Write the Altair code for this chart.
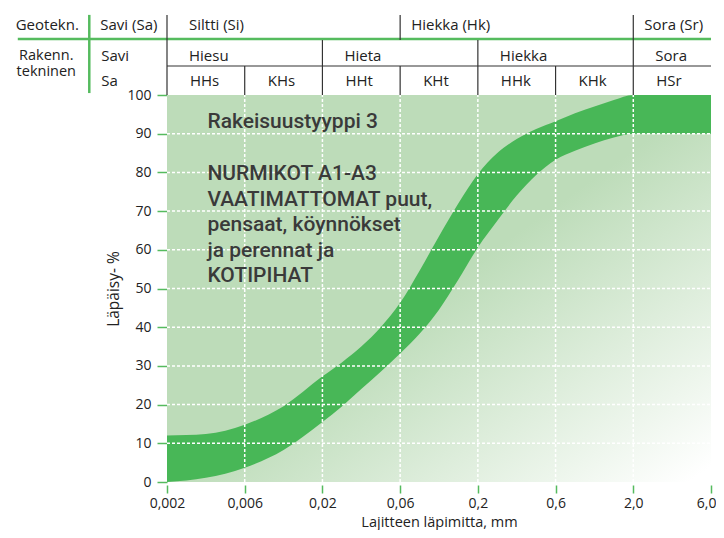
import altair as alt
import pandas as pd

# ---------------- data ----------------
x_tick_labels = ["0,002", "0,006", "0,02", "0,06", "0,2", "0,6", "2,0", "6,0"]
x_tick_pos = [0, 1, 2, 3, 4, 5, 6, 7]
y_tick_vals = [0, 10, 20, 30, 40, 50, 60, 70, 80, 90, 100]

band_x = [0, 0.5, 1, 1.5, 2, 2.25, 2.5, 2.75, 3, 3.25, 3.5, 3.75, 4, 4.25, 4.5,
          4.75, 5, 5.25, 5.5, 5.75, 6, 6.5, 7]
band_upper = [12, 12.4, 14.8, 19.6, 27.3, 30.9, 35, 40, 46.3, 54.6, 63.5, 72, 79.6,
              85.0, 88.6, 91.2, 93.2, 95.3, 97.0, 98.7, 100, 100, 100]
band_lower = [0, 1.1, 3.7, 8.3, 15.5, 19.5, 24, 28.5, 33.2, 38.3, 44.5, 52.3, 60.6,
              67.5, 74, 79.3, 83.3, 85.6, 87.5, 89.0, 90, 90, 90]

geo_names = ["Savi (Sa)", "Siltti (Si)", "Hiekka (Hk)", "Sora (Sr)"]
geo_start = [-1, 0, 3, 6]
rak_names = ["Hiesu", "Hieta", "Hiekka", "Sora"]
rak_start = [0, 2, 4, 6]
sub_names = ["HHs", "KHs", "HHt", "KHt", "HHk", "KHk", "HSr"]
sub_start = [0, 1, 2, 3, 4, 5, 6]
savi_col = ["Savi", "Sa"]
row_titles = ["Geotekn.", "Rakenn.", "tekninen"]

title_line = "Rakeisuustyyppi 3"
body_lines = ["NURMIKOT A1-A3", "VAATIMATTOMAT puut,", "pensaat, köynnökset",
              "ja perennat ja", "KOTIPIHAT"]

# ---------------- layout constants (header rows in y-scale units) ----------------
X0, X1 = 0, 7
Y0, Y1 = 0, 100
LABEL_LEFT = -1.92
Y_TOP = 120.7
Y_GREEN = 114.5
Y_MID = 107.5
ROW1 = 118.2
ROW2 = 110.2
ROW3 = 103.5

BG = "#bddcb9"
BAND = "#48b757"
GREEN_LINE = "#55bb5e"
DARK = "#333333"
TXT = "#222222"
FONT = "Open Sans"
HFS = 15

X_AXIS = alt.Axis(values=x_tick_pos,
                  labelExpr="%s[datum.value]" % str(x_tick_labels),
                  labelFlush=False, labelOverlap=False,
                  labelAlign={"condition": {"test": "datum.value == 7", "value": "right"},
                              "value": "center"},
                  labelOffset={"condition": {"test": "datum.value == 7", "value": 5},
                               "value": 0},
                  grid=False, domain=False, tickColor=GREEN_LINE,
                  tickWidth=1.5, tickSize=8, offset=3, labelPadding=3,
                  labelFont=FONT, labelFontSize=14, labelColor=TXT,
                  title="Lajitteen läpimitta, mm", titleFont=FONT,
                  titleFontSize=14.5, titleFontWeight="normal",
                  titleColor=TXT, titleBaseline="alphabetic", titleY=41)
Y_AXIS = alt.Axis(values=y_tick_vals, tickCount=11, grid=False, domain=False,
                  labelOverlap=False, labelFlush=False,
                  tickColor=GREEN_LINE, tickWidth=1.5, tickSize=10,
                  labelPadding=6, labelFont=FONT, labelFontSize=14,
                  labelColor=TXT, title="Läpäisy- %", titleFont=FONT,
                  titleFontSize=15.5, titleFontWeight="normal",
                  titleColor=TXT, titlePadding=5)
X_SCALE = alt.Scale(domain=[X0, X1], nice=False, zero=False)
Y_SCALE = alt.Scale(domain=[Y0, Y1], nice=False, zero=False)


def X(field):
    return alt.X(field, scale=X_SCALE, axis=X_AXIS)


def Y(field):
    return alt.Y(field, scale=Y_SCALE, axis=Y_AXIS)


band_df = pd.DataFrame({"x": band_x, "lower": band_lower, "upper": band_upper,
                        "top": [Y1] * len(band_x)})

bg_df = pd.DataFrame({"x": [X0], "x2": [X1], "y": [Y0], "y2": [Y1]})
grad = alt.Gradient(gradient="linear", x1=0, y1=0, x2=1, y2=1,
                    stops=[alt.GradientStop(offset=0, color=BG),
                           alt.GradientStop(offset=0.5, color=BG),
                           alt.GradientStop(offset=0.98, color="#ffffff"),
                           alt.GradientStop(offset=1, color="#ffffff")])
bg = alt.Chart(bg_df).mark_rect(color=grad).encode(
    x=X("x:Q"), x2="x2:Q", y=Y("y:Q"), y2="y2:Q")

above = alt.Chart(band_df).mark_area(color=BG, interpolate="monotone").encode(
    x=X("x:Q"), y=Y("upper:Q"), y2="top:Q")
band = alt.Chart(band_df).mark_area(color=BAND, interpolate="monotone").encode(
    x=X("x:Q"), y=Y("lower:Q"), y2="upper:Q")

# grid (inner ticks only)
vgrid_df = pd.DataFrame({"x": x_tick_pos[1:-1]})
vgrid_df["y"] = Y0
vgrid_df["y2"] = Y1
hgrid_df = pd.DataFrame({"y": y_tick_vals[1:-1]})
hgrid_df["x"] = X0
hgrid_df["x2"] = X1
vgrid = alt.Chart(vgrid_df).mark_rule(color="white", strokeDash=[3, 2],
                                      strokeWidth=1.5).encode(
    x=X("x:Q"), y=Y("y:Q"), y2="y2:Q")
hgrid = alt.Chart(hgrid_df).mark_rule(color="white", strokeDash=[3, 2],
                                      strokeWidth=1.5).encode(
    y=Y("y:Q"), x=X("x:Q"), x2="x2:Q")

# inner text block
t1_df = pd.DataFrame({"x": [0.52], "y": [91.5], "t": [title_line]})
t1 = alt.Chart(t1_df).mark_text(align="left", baseline="alphabetic",
                                font="Roboto", fontSize=21, fontWeight=500,
                                color="#3a3a3a").encode(
    x=X("x:Q"), y=Y("y:Q"), text="t:N")
t2_df = pd.DataFrame({"x": [0.52], "y": [78.0], "t": ["\n".join(body_lines)]})
t2 = alt.Chart(t2_df).mark_text(align="left", baseline="alphabetic",
                                font="Roboto", fontSize=21, fontWeight=500,
                                color="#3a3a3a", lineBreak="\n",
                                lineHeight=25.5).encode(
    x=X("x:Q"), y=Y("y:Q"), text="t:N")

# ---------------- header table ----------------
hgreen_df = pd.DataFrame({"x": [LABEL_LEFT], "x2": [X1], "y": [Y_GREEN]})
vgreen_df = pd.DataFrame({"x": [-1], "y": [Y_TOP], "y2": [Y1 + 0.5]})
hgreen = alt.Chart(hgreen_df).mark_rule(color=GREEN_LINE, strokeWidth=2.5).encode(
    x=X("x:Q"), x2="x2:Q", y=Y("y:Q"))
vgreen = alt.Chart(vgreen_df).mark_rule(color=GREEN_LINE, strokeWidth=2.5).encode(
    x=X("x:Q"), y=Y("y:Q"), y2="y2:Q")

v_rows = []
for s in geo_start[1:]:
    v_rows.append({"x": s, "y": Y_TOP, "y2": Y_GREEN - 0.3})
for s in rak_start:
    v_rows.append({"x": s, "y": Y_GREEN - 0.3, "y2": Y1})
for s in sub_start:
    if s not in rak_start:
        v_rows.append({"x": s, "y": Y_MID, "y2": Y1})
vdark = alt.Chart(pd.DataFrame(v_rows)).mark_rule(color=DARK, strokeWidth=1.2).encode(
    x=X("x:Q"), y=Y("y:Q"), y2="y2:Q")
hdark = alt.Chart(pd.DataFrame({"x": [X0], "x2": [X1], "y": [Y_MID]})).mark_rule(
    color=DARK, strokeWidth=1.2).encode(x=X("x:Q"), x2="x2:Q", y=Y("y:Q"))


def text_layer(names, starts, yvals, dx, align="left", size=HFS, **kw):
    df = pd.DataFrame({"x": starts, "t": names, "y": yvals})
    return alt.Chart(df).mark_text(align=align, baseline="middle", dx=dx,
                                   font=FONT, fontSize=size, color=TXT, **kw).encode(
        x=X("x:Q"), y=Y("y:Q"), text="t:N")


idx_a = (0, 2, 3)
geo_txt_a = text_layer([geo_names[i] for i in idx_a], [geo_start[i] for i in idx_a],
                       [ROW1] * 3, 11)
geo_txt_b = text_layer([geo_names[1]], [geo_start[1]], [ROW1], 22)
rak_txt = text_layer(rak_names, rak_start, [ROW2] * 4, 22)
sub_txt = text_layer(sub_names, sub_start, [ROW3] * 7, 23)
savi_txt = text_layer(savi_col, [-1, -1], [ROW2, ROW3], 12)
rt1 = text_layer([row_titles[0]], [-1], [ROW1], -42, align="center")
rt2 = text_layer(["\n".join(row_titles[1:])], [-1], [110.2], -43, align="center",
                 size=14.5, lineBreak="\n", lineHeight=16)

chart = alt.layer(bg, above, band, vgrid, hgrid, t1, t2, hgreen, vgreen, vdark, hdark,
                  geo_txt_a, geo_txt_b, rak_txt, sub_txt, savi_txt, rt1, rt2).properties(
    width=544, height=387,
    autosize=alt.AutoSizeParams(type="none"),
    padding={"left": 159, "top": 87, "right": 5, "bottom": 48},
).configure_view(stroke=None)

chart.save("out.html", embed_options={"renderer": "svg", "actions": False})
